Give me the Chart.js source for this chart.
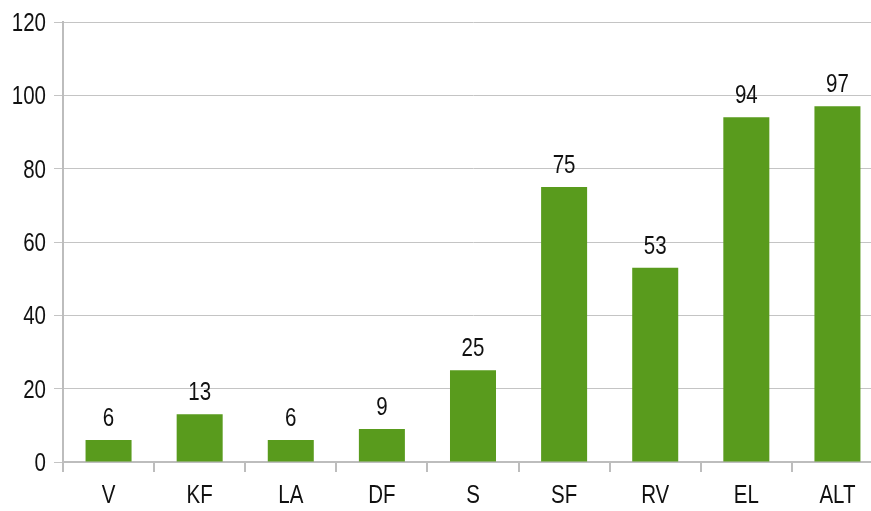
<!DOCTYPE html>
<html>
<head>
<meta charset="utf-8">
<script src="https://cdn.jsdelivr.net/npm/chart.js@4"></script>
<style>
  html, body { margin: 0; padding: 0; background: #fff; overflow: hidden; }
  #wrap { width: 884px; height: 511px; position: relative; }
</style>
</head>
<body>
<div id="wrap"><canvas id="chart"></canvas></div>
<script>
const categories = ['V', 'KF', 'LA', 'DF', 'S', 'SF', 'RV', 'EL', 'ALT'];
const values = [6, 13, 6, 9, 25, 75, 53, 94, 97];
const yTicks = [0, 20, 40, 60, 80, 100, 120];

const FONT = "'Liberation Sans Narrow', 'Liberation Sans', Arial, sans-serif";
const SQUEEZE = 0.82; // letra estrecha tipo Arial Narrow

function narrowText(ctx, txt, x, y, size, align) {
    ctx.save();
    ctx.font = size + 'px ' + FONT;
    ctx.fillStyle = '#111';
    ctx.textAlign = align;
    ctx.textBaseline = 'middle';
    ctx.translate(x, y);
    ctx.scale(SQUEEZE, 1);
    ctx.fillText(txt, 0, 0);
    ctx.restore();
}

// textos: etiquetas de ejes y valores encima de las barras
const textos = {
    id: 'textos',
    afterDraw(chart) {
        const ctx = chart.ctx;
        const yS = chart.scales.y, xS = chart.scales.x;
        yTicks.forEach(v => {
            narrowText(ctx, String(v), 46, yS.getPixelForValue(v) + 2, 25, 'right');
        });
        categories.forEach((c, i) => {
            narrowText(ctx, c, xS.getPixelForValue(i), xS.top + 34, 25, 'center');
        });
        chart.getDatasetMeta(0).data.forEach((bar, i) => {
            narrowText(ctx, String(values[i]), bar.x, bar.y - 21, 25, 'center');
        });
    }
};

new Chart(document.getElementById('chart').getContext('2d'), {
    type: 'bar',
    data: {
        labels: categories,
        datasets: [{
            data: values,
            backgroundColor: '#599b1d',
            borderWidth: 0,
            barPercentage: 0.505,
            categoryPercentage: 1
        }]
    },
    options: {
        responsive: true,
        maintainAspectRatio: false,
        animation: false,
        layout: { padding: { top: 22, left: 0, right: 1, bottom: 0 } },
        plugins: { legend: { display: false }, tooltip: { enabled: false } },
        scales: {
            y: {
                min: 0,
                max: 120,
                afterBuildTicks(scale) { scale.ticks = yTicks.map(v => ({ value: v })); },
                afterFit(scale) { scale.width = 63; },
                border: { color: '#bdbdbd', width: 2 },
                grid: { color: '#c4c4c4', lineWidth: 1, tickLength: 9 },
                ticks: { display: false }
            },
            x: {
                afterFit(scale) { scale.height = 49; },
                border: { color: '#bdbdbd', width: 2 },
                grid: { drawOnChartArea: false, drawTicks: true, tickLength: 10, color: '#bdbdbd', lineWidth: 2, offset: true },
                ticks: { display: false }
            }
        }
    },
    plugins: [textos]
});
</script>
</body>
</html>
